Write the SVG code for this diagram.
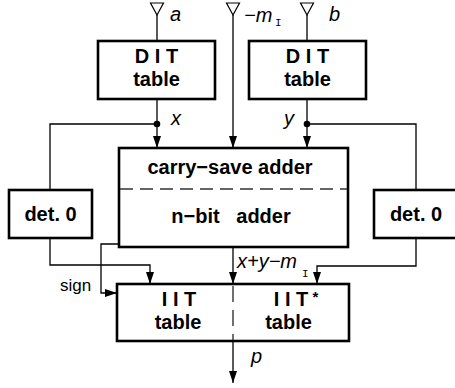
<svg xmlns="http://www.w3.org/2000/svg" width="455" height="388" viewBox="0 0 455 388">
<style>
.box{fill:#fff;stroke:#000;stroke-width:2.6}
.ln{fill:none;stroke:#000;stroke-width:1.3}
.dash{fill:none;stroke:#333;stroke-width:1.4;stroke-dasharray:13 7}
.inp{fill:#fff;stroke:#000;stroke-width:1.2}
.b{font-family:"Liberation Sans",Arial,sans-serif;font-weight:bold;font-size:20px;text-anchor:middle;fill:#000}
.i{font-family:"Liberation Sans",Arial,sans-serif;font-style:italic;font-size:20px;fill:#000}
.n{font-family:"Liberation Sans",Arial,sans-serif;font-size:17px;fill:#000}
.sub{font-family:"Liberation Mono","Courier New",monospace;font-size:11px;fill:#000}
</style>
<defs>
<marker id="ah" viewBox="0 0 12 8" refX="12" refY="4" markerWidth="12" markerHeight="8" markerUnits="userSpaceOnUse" orient="auto">
<path d="M0,0 L12,4 L0,8 Z" fill="#000"/>
</marker>
</defs>
<g id="connectors">
<polygon class="inp" points="150.5,3 163.5,3 157,15"/>
<line class="ln" x1="157" y1="15" x2="157" y2="41"/>
<polygon class="inp" points="226.5,3 239.5,3 233,15"/>
<line class="ln" x1="233" y1="15" x2="233" y2="148" marker-end="url(#ah)"/>
<polygon class="inp" points="300.5,3 313.5,3 307,15"/>
<line class="ln" x1="307" y1="15" x2="307" y2="41"/>
<line class="ln" x1="157" y1="99" x2="157" y2="148" marker-end="url(#ah)"/>
<line class="ln" x1="307" y1="99" x2="307" y2="148" marker-end="url(#ah)"/>
<circle cx="157" cy="124" r="3.3" fill="#000"/>
<circle cx="307" cy="124" r="3.3" fill="#000"/>
<polyline class="ln" points="157,124 50,124 50,190"/>
<polyline class="ln" points="307,124 416,124 416,190"/>
<polyline class="ln" points="50,238 50,265 150,265 150,284" marker-end="url(#ah)"/>
<polyline class="ln" points="416,238 416,266 317,266 317,284" marker-end="url(#ah)"/>
<polyline class="ln" points="119,244 101,244 101,293 117,293" marker-end="url(#ah)"/>
<line class="ln" x1="233" y1="247" x2="233" y2="284" marker-end="url(#ah)"/>
<line class="ln" x1="233" y1="341" x2="233" y2="383" marker-end="url(#ah)"/>
</g>
<g id="dit-a">
<rect class="box" x="98" y="41" width="117" height="58"/>
<text class="b" x="156.5" y="63">D I T</text>
<text class="b" x="156.5" y="86">table</text>
</g>
<g id="dit-b">
<rect class="box" x="249" y="41" width="117" height="58"/>
<text class="b" x="307.5" y="63">D I T</text>
<text class="b" x="307.5" y="86">table</text>
</g>
<g id="adder">
<rect class="box" x="119" y="148" width="229" height="99"/>
<line class="dash" x1="120" y1="189" x2="347" y2="189"/>
<text class="b" x="230" y="174">carry−save adder</text>
<text class="b" x="231" y="223" xml:space="preserve">n−bit   adder</text>
</g>
<g id="det-left">
<rect class="box" x="9" y="190" width="83" height="48"/>
<text class="b" x="50.5" y="221">det. 0</text>
</g>
<g id="det-right">
<rect class="box" x="374" y="190" width="83" height="48"/>
<text class="b" x="416" y="221">det. 0</text>
</g>
<g id="iit">
<rect class="box" x="117" y="284" width="232" height="57"/>
<line class="dash" x1="233" y1="286" x2="233" y2="340" style="stroke-dasharray:16 8"/>
<text class="b" x="179" y="306">I I T</text>
<text class="b" x="178" y="329">table</text>
<text class="b" x="296" y="306">I I T<tspan font-size="15" dy="-4"> *</tspan></text>
<text class="b" x="288.5" y="329">table</text>
</g>
<g id="labels">
<text class="i" x="170" y="21">a</text>
<text class="i" x="244" y="22">−m</text>
<text class="sub" x="275" y="26">I</text>
<text class="i" x="329" y="21">b</text>
<text class="i" x="171" y="125">x</text>
<text class="i" x="284" y="125">y</text>
<text class="n" x="60" y="291">sign</text>
<text class="i" x="237" y="268">x+y−m</text>
<text class="sub" x="302" y="277">I</text>
<text class="i" x="251" y="363">p</text>
</g>
</svg>
